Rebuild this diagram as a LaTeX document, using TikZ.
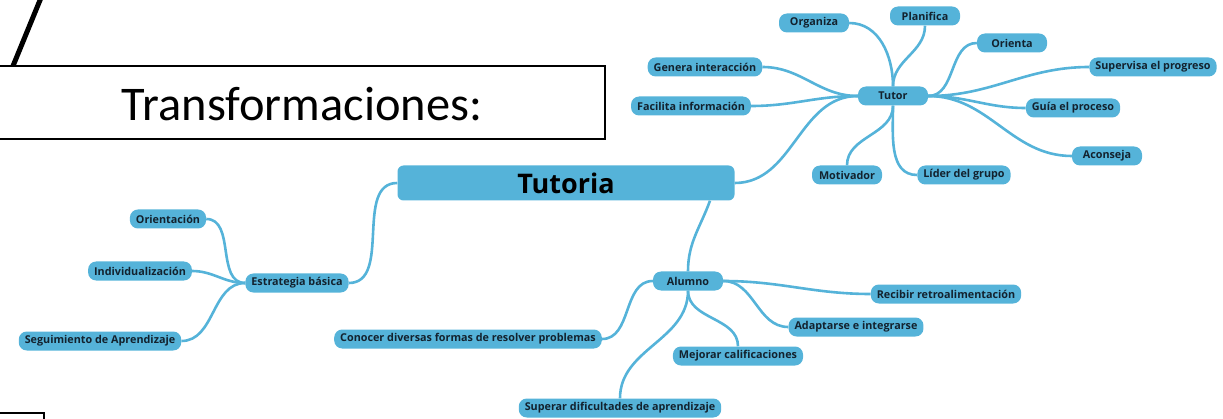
\documentclass[tikz,border=0pt]{standalone}
\usepackage{fontspec}
\setmainfont{Open Sans}
\newfontfamily\boxfont{Carlito}
\definecolor{mapblue}{HTML}{55B3D9}
\definecolor{maptext}{HTML}{13222E}
\begin{document}
\begin{tikzpicture}[x=1pt,y=1pt,
	leaf/.style={fill=mapblue,rounded corners=8pt,minimum height=19pt,minimum width=70pt,inner xsep=6pt,inner ysep=0pt,
		text=maptext,font=\fontsize{10.8}{12}\selectfont\bfseries},
	root/.style={fill=mapblue,rounded corners=6pt,minimum width=337pt,minimum height=35pt,
		text=black,font=\fontsize{27}{30}\selectfont\bfseries},
	branch/.style={draw=mapblue,line width=2.6pt}]
	\useasboundingbox (0,0) rectangle (1223,418);
	% title frame and lines at the edges
	\draw[line width=1.6pt] (-5,279) rectangle (605,352);
	\node[font=\boxfont\fontsize{48.4}{52}\selectfont] (titulo) at (302,314) {Transformaciones:};
	\draw[line width=5pt] (13,352) -- (45,430);
	\draw[line width=1.6pt] (-5,-10) rectangle (44,5);
	% nodes
	\node[root] (tutoria) at (566,235) {Tutoria};
	\node[leaf] (tutor) at (893,322) {Tutor};
	\node[leaf] (organiza) at (814,395) {Organiza};
	\node[leaf] (planifica) at (925,402) {Planifica};
	\node[leaf] (orienta) at (1012,375) {Orienta};
	\node[leaf] (genera) at (705,351) {Genera interacción};
	\node[leaf] (supervisa) at (1153,351) {Supervisa el progreso};
	\node[leaf] (facilita) at (691,312) {Facilita información};
	\node[leaf] (guia) at (1073,310) {Guía el proceso};
	\node[leaf] (aconseja) at (1107,262) {Aconseja};
	\node[leaf] (motivador) at (847,243) {Motivador};
	\node[leaf] (lider) at (964,243) {Líder del grupo};
	\node[leaf] (estrategia) at (297,135) {Estrategia básica};
	\node[leaf] (orientacion) at (168,199) {Orientación};
	\node[leaf] (individual) at (140,147) {Individualización};
	\node[leaf] (seguimiento) at (100,77) {Seguimiento de Aprendizaje};
	\node[leaf] (alumno) at (688,137) {Alumno};
	\node[leaf] (recibir) at (946,124) {Recibir retroalimentación};
	\node[leaf] (conocer) at (468,79) {Conocer diversas formas de resolver problemas};
	\node[leaf] (adaptarse) at (856,91) {Adaptarse e integrarse};
	\node[leaf] (mejorar) at (738,62) {Mejorar calificaciones};
	\node[leaf] (superar) at (620,10) {Superar dificultades de aprendizaje};
	% branches
	\foreach \a/\b in {tutor.west/genera.east,tutor.west/facilita.east,tutor.west/tutoria.east,
		tutoria.west/estrategia.east,estrategia.west/orientacion.east,estrategia.west/individual.east,
		estrategia.west/seguimiento.east,alumno.west/conocer.east}
		\draw[branch] (\a) to[out=180,in=0] (\b);
	\foreach \a/\b in {tutor.east/orienta.west,tutor.east/supervisa.west,tutor.east/guia.west,
		tutor.east/aconseja.west,alumno.east/recibir.west,alumno.east/adaptarse.west}
		\draw[branch] (\a) to[out=0,in=180] (\b);
	\draw[branch] (tutor.north) to[out=90,in=0] (organiza.east);
	\draw[branch] (tutor.north) to[out=90,in=-90] (planifica.south);
	\draw[branch] (tutor.south) to[out=-90,in=90] (motivador.north);
	\draw[branch] (tutor.south) to[out=-90,in=180] (lider.west);
	\draw[branch] ([xshift=144pt]tutoria.south) to[out=-110,in=90] (alumno.north);
	\draw[branch] (alumno.south) to[out=-90,in=90] (superar.north);
	\draw[branch] (alumno.south) to[out=-90,in=90] (mejorar.north);
\end{tikzpicture}
\end{document}
